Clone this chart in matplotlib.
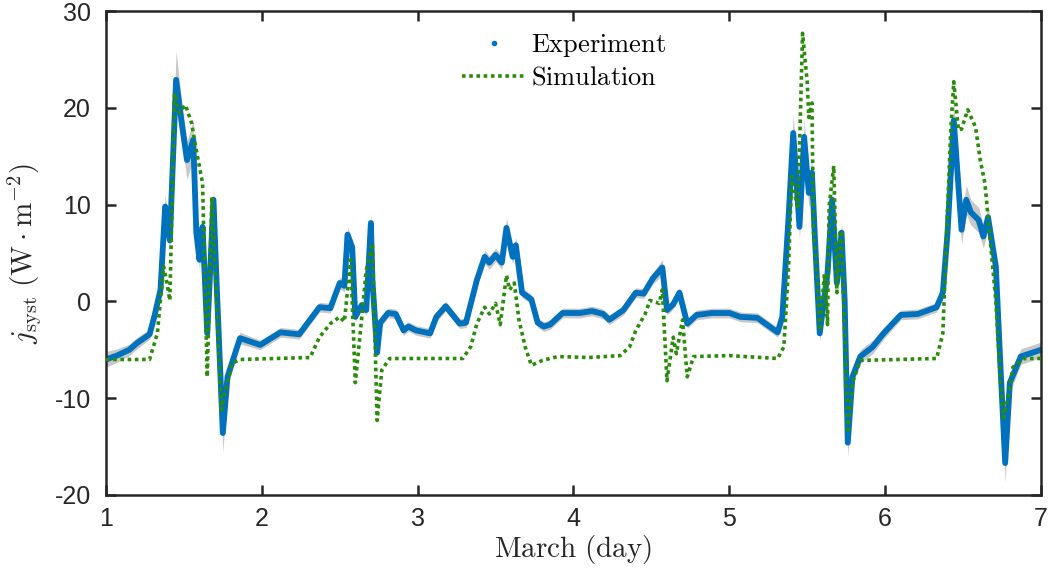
import matplotlib.pyplot as plt
from matplotlib.lines import Line2D
import numpy as np

plt.rcParams['mathtext.fontset'] = 'cm'
plt.rcParams['font.family'] = ['Liberation Sans', 'DejaVu Sans']
plt.rcParams['axes.unicode_minus'] = False

# experiment (blue)
exp_day = [1.00, 1.07, 1.15, 1.20, 1.28, 1.31, 1.35, 1.38, 1.41, 1.45,
           1.49, 1.52, 1.56, 1.58, 1.60, 1.62, 1.65, 1.69, 1.71, 1.75,
           1.78, 1.86, 1.99, 2.12, 2.24, 2.37, 2.44, 2.50, 2.53, 2.55,
           2.58, 2.60, 2.64, 2.67, 2.70, 2.71, 2.74, 2.76, 2.81, 2.86,
           2.91, 2.94, 2.99, 3.08, 3.12, 3.18, 3.27, 3.31, 3.38, 3.43,
           3.46, 3.50, 3.54, 3.57, 3.61, 3.63, 3.67, 3.73, 3.77, 3.81,
           3.85, 3.93, 4.04, 4.12, 4.19, 4.23, 4.32, 4.40, 4.45, 4.51,
           4.57, 4.60, 4.64, 4.68, 4.73, 4.79, 4.89, 5.00, 5.07, 5.18,
           5.31, 5.34, 5.38, 5.41, 5.45, 5.48, 5.51, 5.53, 5.55, 5.58,
           5.63, 5.66, 5.69, 5.72, 5.74, 5.76, 5.79, 5.84, 5.92, 5.99,
           6.10, 6.21, 6.33, 6.37, 6.40, 6.44, 6.49, 6.52, 6.55, 6.60,
           6.63, 6.66, 6.71, 6.74, 6.77, 6.80, 6.87, 7.00]
exp_val = [-6.0, -5.6, -5.0, -4.3, -3.4, -1.6, 1.2, 9.8, 6.3, 22.9,
           18.0, 14.6, 16.7, 7.1, 4.3, 7.7, -3.3, 10.5, 1.9, -13.6,
           -7.8, -3.8, -4.5, -3.2, -3.4, -0.6, -0.7, 1.9, 1.6, 6.9,
           5.6, -1.6, -0.4, -0.9, 8.1, 2.2, -5.3, -2.2, -1.2, -1.3,
           -3.0, -2.6, -3.0, -3.3, -1.6, -0.5, -2.3, -2.2, 2.2, 4.6,
           4.0, 4.8, 4.0, 7.6, 4.6, 5.8, 0.9, 0.2, -2.2, -2.6,
           -2.4, -1.2, -1.2, -1.0, -1.3, -1.9, -0.9, 0.9, 0.8, 2.4,
           3.5, -0.9, -0.3, 0.9, -2.3, -1.4, -1.2, -1.2, -1.6, -1.7,
           -3.2, -1.6, 8.7, 17.4, 7.7, 17.0, 11.2, 13.3, 6.3, -3.3,
           2.9, 10.5, 1.9, 7.1, 0.1, -14.6, -7.8, -5.7, -4.7, -3.3,
           -1.4, -1.3, -0.6, 0.9, 7.1, 18.7, 7.4, 10.5, 9.2, 8.4,
           6.7, 8.7, 3.6, -6.8, -16.7, -8.4, -5.7, -5.0]
exp_err = [0.8, 0.7, 0.6, 0.6, 0.5, 0.6, 0.8, 1.2, 1.0, 3.0,
           2.0, 2.0, 2.0, 1.2, 1.0, 1.2, 0.8, 1.2, 0.8, 2.0,
           1.0, 0.6, 0.5, 0.5, 0.5, 0.5, 0.5, 0.6, 0.6, 0.8,
           0.8, 0.5, 0.5, 0.5, 1.0, 0.6, 0.6, 0.5, 0.5, 0.5,
           0.5, 0.5, 0.5, 0.5, 0.5, 0.5, 0.5, 0.5, 0.6, 0.7,
           0.7, 0.7, 0.7, 1.0, 0.7, 0.8, 0.5, 0.5, 0.5, 0.5,
           0.5, 0.5, 0.5, 0.5, 0.5, 0.5, 0.5, 0.5, 0.5, 0.6,
           0.8, 0.5, 0.5, 0.5, 0.5, 0.5, 0.5, 0.5, 0.5, 0.5,
           0.5, 0.5, 1.0, 2.0, 1.2, 1.8, 1.5, 1.5, 1.0, 0.8,
           0.8, 1.2, 0.8, 1.0, 0.8, 1.5, 0.8, 0.7, 0.7, 0.6,
           0.5, 0.5, 0.5, 0.6, 1.0, 2.0, 1.5, 1.5, 1.3, 1.3,
           1.2, 1.2, 0.8, 1.0, 2.0, 1.0, 0.8, 0.8]

# simulation (green dotted)
sim_day = [1.00, 1.28, 1.33, 1.37, 1.39, 1.41, 1.44, 1.47, 1.51, 1.55,
           1.58, 1.62, 1.65, 1.68, 1.70, 1.74, 1.77, 1.81, 1.86, 2.31,
           2.37, 2.44, 2.50, 2.53, 2.57, 2.60, 2.64, 2.67, 2.71, 2.74,
           2.77, 2.82, 3.29, 3.34, 3.38, 3.43, 3.46, 3.50, 3.53, 3.57,
           3.59, 3.62, 3.65, 3.69, 3.73, 3.80, 3.90, 4.10, 4.30, 4.36,
           4.40, 4.46, 4.49, 4.55, 4.57, 4.60, 4.64, 4.66, 4.70, 4.73,
           4.77, 5.00, 5.31, 5.35, 5.38, 5.40, 5.42, 5.44, 5.47, 5.50,
           5.51, 5.53, 5.54, 5.56, 5.58, 5.61, 5.63, 5.64, 5.67, 5.69,
           5.71, 5.72, 5.74, 5.76, 5.79, 5.84, 6.33, 6.37, 6.39, 6.42,
           6.44, 6.47, 6.49, 6.53, 6.58, 6.61, 6.64, 6.66, 6.71, 6.74,
           6.76, 6.78, 6.82, 6.89, 7.00]
sim_val = [-6.0, -6.0, -3.3, 3.6, 2.0, 0.1, 21.5, 19.5, 20.3, 18.4,
           15.6, 12.2, -7.8, 10.8, 3.6, -11.2, -9.0, -6.4, -6.0, -5.8,
           -3.7, -2.3, -1.6, -2.1, 4.3, -8.4, -1.9, 3.2, 6.0, -12.3,
           -7.1, -5.9, -5.9, -4.7, -2.3, -0.6, -1.3, -0.2, -2.4, 2.7,
           1.2, 1.9, -1.9, -4.7, -6.6, -6.1, -5.7, -5.8, -5.6, -4.7,
           -3.0, -1.3, 0.1, -0.2, 1.2, -8.2, -3.7, -5.4, -1.9, -7.8,
           -5.7, -5.6, -5.9, -4.7, 3.6, 12.9, 11.0, 9.8, 27.7, 22.6,
           19.0, 20.5, 7.1, 3.6, -3.0, 2.8, -2.4, 9.8, 14.0, 0.9,
           7.1, 7.3, -3.3, -13.6, -8.4, -6.1, -5.9, -3.3, 5.3, 17.4,
           22.7, 17.7, 17.8, 19.8, 18.0, 14.6, 12.2, 8.7, 0.1, -8.4,
           -12.0, -10.6, -6.8, -5.9, -5.9]

blue = '#0072BD'
green = '#2a8c0a'
dark = '#262626'

fig, ax = plt.subplots(figsize=(10.49, 5.80), dpi=100)
fig.subplots_adjust(left=0.101, right=0.9924, bottom=0.1466, top=0.981)

ed = np.array(exp_day)
ev = np.array(exp_val)
ee = np.array(exp_err)
ax.fill_between(ed, ev - ee, ev + ee, color='#c8c8c8', lw=0, zorder=1)
ax.plot(ed, ev, color=blue, lw=4.2, solid_joinstyle='round', zorder=2)
ax.plot(sim_day, sim_val, color=green, lw=2.6, dashes=(1.0, 1.0), zorder=3)

ax.set_xlim(1, 7)
ax.set_ylim(-20, 30)
ax.set_xticks([1, 2, 3, 4, 5, 6, 7])
ax.set_yticks([-20, -10, 0, 10, 20, 30])
ax.tick_params(direction='in', length=7, width=1.8, top=True, right=True,
               labelsize=18, colors=dark)
ax.tick_params(axis='x', pad=9)
ax.tick_params(axis='y', pad=11)
for s in ax.spines.values():
    s.set_linewidth(1.8)
    s.set_color(dark)

ax.set_xlabel(r'$\mathrm{March\ (day)}$', fontsize=21, color=dark, labelpad=1)
ax.set_ylabel(r'$j_{\mathrm{syst}}\ (\mathrm{W}\cdot\mathrm{m}^{-2})$', fontsize=21,
              color=dark, labelpad=8)

handles = [Line2D([], [], color=blue, marker='.', ls='none', markersize=6),
           Line2D([], [], color=green, lw=2.6, dashes=(1.0, 1.0))]
ax.legend(handles, [r'$\mathrm{Experiment}$', r'$\mathrm{Simulation}$'],
          loc='upper center', bbox_to_anchor=(0.49, 1.005), frameon=False,
          fontsize=19, handlelength=2.4, handletextpad=0.2, labelspacing=0.25)

fig.savefig('out.png', dpi=100)
